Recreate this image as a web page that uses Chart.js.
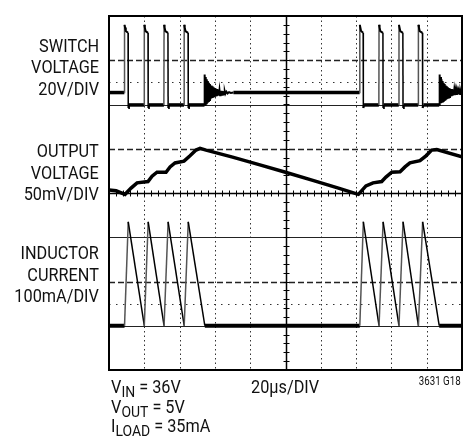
<!DOCTYPE html>
<html>
<head>
<meta charset="utf-8">
<script src="https://cdn.jsdelivr.net/npm/chart.js@4/dist/chart.umd.min.js"></script>
<style>
    body { margin: 0; background: #fff; }
    #wrap { position: relative; width: 466px; height: 440px; overflow: hidden; }
    .lab {
        position: absolute; right: 367px; text-align: right;
        font-family: Roboto, sans-serif; font-size: 17.5px; line-height: 21.5px;
        color: #111; transform: scaleX(0.93); transform-origin: right top; white-space: nowrap;
    }
    .note {
        position: absolute; font-family: Roboto, sans-serif; font-size: 17.5px; line-height: 21.5px;
        color: #111; transform: scaleX(0.93); transform-origin: left top; white-space: nowrap;
    }
    .note .sub { font-size: 15px; position: relative; top: 4px; }
    .code {
        position: absolute; right: 5px; top: 374px; font-family: Roboto, sans-serif; font-size: 12px;
        line-height: 14px; color: #111; transform: scaleX(0.81); transform-origin: right top;
    }
</style>
</head>
<body>
<div id="wrap">
    <canvas id="scope" width="466" height="440"></canvas>
    <div class="lab" style="top:35.7px">SWITCH<br>VOLTAGE<br>20V/DIV</div>
    <div class="lab" style="top:141.4px">OUTPUT<br>VOLTAGE<br>50mV/DIV</div>
    <div class="lab" style="top:243.2px">INDUCTOR<br>CURRENT<br>100mA/DIV</div>
    <div class="note" style="left:111px; top:376.7px">V<span class="sub">IN</span> = 36V</div>
    <div class="note" style="left:111px; top:397.4px">V<span class="sub">OUT</span> = 5V</div>
    <div class="note" style="left:111px; top:415.7px">I<span class="sub">LOAD</span> = 35mA</div>
    <div class="note" style="left:251px; top:376.7px">20µs/DIV</div>
    <div class="code">3631 G18</div>
</div>
<script>
const SWITCH_TRACE = [
    [0, 6.27], [8.7, 6.27],
    [8.8, 7.8], [9.1, 7.74], [9.5, 7.66], [10.8, 7.62], [10.9, 5.92], [11.3, 5.99], [19.9, 5.99],
    [20.0, 7.8], [20.3, 7.74], [20.7, 7.66], [22.1, 7.62], [22.2, 5.92], [22.6, 5.99], [31.1, 5.99],
    [31.2, 7.8], [31.5, 7.74], [31.9, 7.66], [33.4, 7.62], [33.5, 5.92], [33.9, 5.99], [42.5, 5.99],
    [42.6, 7.8], [42.9, 7.74], [43.3, 7.66], [44.8, 7.62], [44.9, 5.92], [45.3, 5.99], [54.1, 5.99],
    // oscilación al vaciarse la bobina
    [54.2, 6.68], [54.5, 6.0], [54.8, 6.62], [55.1, 6.03], [55.4, 6.57], [55.7, 6.06], [56.0, 6.53],
    [56.3, 6.08], [56.6, 6.49], [56.9, 6.1], [57.2, 6.46], [57.5, 6.12], [57.8, 6.43], [58.1, 6.14],
    [58.4, 6.41], [58.7, 6.15], [59.0, 6.39], [59.3, 6.16], [59.6, 6.37], [59.9, 6.17], [60.2, 6.36],
    [60.5, 6.18], [60.8, 6.35], [61.1, 6.19], [61.4, 6.34], [61.7, 6.2], [62.0, 6.33], [62.3, 6.21],
    [62.6, 6.32], [62.9, 6.21], [63.2, 6.31], [63.5, 6.22], [63.8, 6.31], [64.1, 6.22], [64.4, 6.3],
    [64.7, 6.23], [65.0, 6.3], [65.3, 6.23], [65.6, 6.29], [65.9, 6.24], [66.5, 6.29], [67.2, 6.25],
    [68.0, 6.28], [69.0, 6.26], [70.5, 6.27], [142.0, 6.27],
    [142.1, 7.8], [142.4, 7.74], [142.8, 7.66], [144.0, 7.62], [144.1, 5.92], [144.5, 5.99], [152.9, 5.99],
    [153.0, 7.8], [153.3, 7.74], [153.7, 7.66], [155.2, 7.62], [155.3, 5.92], [155.7, 5.99], [164.2, 5.99],
    [164.3, 7.8], [164.6, 7.74], [165.0, 7.66], [166.5, 7.62], [166.6, 5.92], [167.0, 5.99], [175.2, 5.99],
    [175.3, 7.8], [175.6, 7.74], [176.0, 7.66], [177.6, 7.62], [177.7, 5.92], [178.1, 5.99], [187.1, 5.99],
    [187.2, 6.68], [187.5, 6.0], [187.8, 6.62], [188.1, 6.03], [188.4, 6.57], [188.7, 6.06], [189.0, 6.53],
    [189.3, 6.08], [189.6, 6.49], [189.9, 6.1], [190.2, 6.46], [190.5, 6.12], [190.8, 6.43], [191.1, 6.14],
    [191.4, 6.41], [191.7, 6.15], [192.0, 6.39], [192.3, 6.16], [192.6, 6.37], [192.9, 6.17], [193.2, 6.36],
    [193.5, 6.18], [193.8, 6.35], [194.1, 6.19], [194.4, 6.34], [194.7, 6.2], [195.0, 6.33], [195.3, 6.21],
    [195.6, 6.32], [195.9, 6.21], [196.2, 6.31], [196.5, 6.22], [196.8, 6.31], [197.1, 6.22], [197.4, 6.3],
    [197.7, 6.23], [198.0, 6.3], [198.3, 6.23], [198.6, 6.29], [198.9, 6.24], [199.2, 6.29], [199.5, 6.24],
    [199.8, 6.29], [200, 6.25]
];

const OUTPUT_TRACE = [
    [0, 4.07], [4, 4.05], [9.1, 3.97], [12.5, 4.11], [15.9, 4.23], [22.1, 4.26], [24.4, 4.38],
    [27.2, 4.47], [32.3, 4.47], [34.6, 4.59], [37.4, 4.68], [42.5, 4.72], [45.9, 4.84], [49.3, 4.97],
    [51.6, 5.01], [55, 4.97], [70, 4.81], [85, 4.64], [100, 4.47], [115, 4.29], [130, 4.11],
    [140.3, 3.98], [141.3, 3.97], [145.6, 4.16], [149.6, 4.23], [154.5, 4.26], [156.9, 4.36],
    [160.2, 4.47], [164.9, 4.48], [167.7, 4.59], [170.5, 4.68], [176.2, 4.73], [179.6, 4.84],
    [182.8, 4.97], [185.7, 4.98], [200, 4.82]
];

const INDUCTOR_TRACE = [
    [0, 1], [8.8, 1], [10.9, 3.35], [20.0, 1], [22.2, 3.35], [31.2, 1], [33.5, 3.35], [42.6, 1],
    [44.9, 3.35], [54.3, 1], [142.1, 1], [144.1, 3.35], [153.0, 1], [155.3, 3.35], [164.3, 1],
    [166.6, 3.35], [175.3, 1], [177.7, 3.35], [187.1, 1], [200, 1]
];

// Retícula: 10 divisiones horizontales de 20µs, 8 verticales
const GRID_X = [20, 40, 60, 80, 120, 140, 160, 180];
const CENTER_X = 100;
const CENTER_Y = 4;
const REF_DASHED = [2, 5, 7];
const REF_SOLID = [1, 3, 6];
const REF_DOTTED = [1.5, 6.5];

function toPoints(trace) {
    return trace.map(p => ({ x: p[0], y: p[1] }));
}

// Dibuja la retícula del osciloscopio usando las escalas del gráfico
const scopeGrid = {
    id: 'scopeGrid',
    beforeDatasetsDraw(chart) {
        const { ctx, chartArea: a, scales: { x, y } } = chart;
        const hLine = (v) => {
            const py = Math.round(y.getPixelForValue(v)) + 0.5;
            ctx.beginPath(); ctx.moveTo(a.left, py); ctx.lineTo(a.right, py); ctx.stroke();
        };
        ctx.save();

        ctx.strokeStyle = '#333';
        ctx.lineWidth = 1;
        ctx.setLineDash([1.5, 3]);
        GRID_X.forEach(t => {
            const px = Math.round(x.getPixelForValue(t)) + 0.5;
            ctx.beginPath(); ctx.moveTo(px, a.top); ctx.lineTo(px, a.bottom); ctx.stroke();
        });

        ctx.setLineDash([1.5, 5.5]);
        REF_DOTTED.forEach(hLine);

        ctx.strokeStyle = '#222';
        ctx.lineWidth = 1.3;
        ctx.setLineDash([6, 3]);
        REF_DASHED.forEach(hLine);

        ctx.lineWidth = 1;
        ctx.setLineDash([]);
        REF_SOLID.forEach(hLine);

        // Ejes centrales con marcas de subdivisión
        ctx.strokeStyle = '#000';
        ctx.lineWidth = 1.5;
        const cx = Math.round(x.getPixelForValue(CENTER_X)) + 0.5;
        const cy = Math.round(y.getPixelForValue(CENTER_Y)) + 0.5;
        ctx.beginPath();
        ctx.moveTo(cx, a.top); ctx.lineTo(cx, a.bottom);
        ctx.moveTo(a.left, cy); ctx.lineTo(a.right, cy);
        ctx.stroke();

        ctx.lineWidth = 1;
        ctx.beginPath();
        for (let t = 4; t < 200; t += 4) {
            const px = Math.round(x.getPixelForValue(t)) + 0.5;
            ctx.moveTo(px, cy - 3); ctx.lineTo(px, cy + 3);
        }
        for (let d = 0.2; d < 8; d += 0.2) {
            const py = Math.round(y.getPixelForValue(d)) + 0.5;
            ctx.moveTo(cx - 3, py); ctx.lineTo(cx + 3, py);
        }
        ctx.stroke();
        ctx.restore();
    },
    afterDatasetsDraw(chart) {
        const { ctx, chartArea: a } = chart;
        ctx.save();
        ctx.strokeStyle = '#000';
        ctx.lineWidth = 2;
        ctx.strokeRect(a.left, a.top, a.right - a.left, a.bottom - a.top);
        ctx.restore();
    }
};

// Flancos rápidos más claros, niveles planos y oscilaciones más gruesos
const traceWidth = (ctx) => {
    const dy = Math.abs(ctx.p1.parsed.y - ctx.p0.parsed.y);
    if (dy === 0) return 3.5;
    return dy < 1 ? 2 : 1.5;
};
const edgeColor = (ctx) => ctx.p1.parsed.y - ctx.p0.parsed.y > 1 ? '#555' : '#000';

new Chart(document.getElementById('scope'), {
    type: 'line',
    data: {
        datasets: [
            {
                label: 'Switch Voltage',
                data: toPoints(SWITCH_TRACE),
                borderColor: '#000',
                borderWidth: 1.5,
                segment: { borderWidth: traceWidth, borderColor: edgeColor }
            },
            {
                label: 'Output Voltage',
                data: toPoints(OUTPUT_TRACE),
                borderColor: '#000',
                borderWidth: 3.5
            },
            {
                label: 'Inductor Current',
                data: toPoints(INDUCTOR_TRACE),
                borderColor: '#000',
                borderWidth: 1.5,
                segment: { borderWidth: (ctx) => ctx.p0.parsed.y === 1 && ctx.p1.parsed.y === 1 ? 4 : 1.5, borderColor: edgeColor }
            }
        ]
    },
    options: {
        responsive: false,
        animation: false,
        events: [],
        devicePixelRatio: 1,
        layout: { padding: { left: 109, right: 4, top: 16, bottom: 70 } },
        elements: {
            point: { radius: 0 },
            line: { tension: 0, fill: false, borderJoinStyle: 'miter' }
        },
        scales: {
            x: { type: 'linear', min: 0, max: 200, display: false },
            y: { type: 'linear', min: 0, max: 8, display: false }
        },
        plugins: {
            legend: { display: false },
            tooltip: { enabled: false }
        }
    },
    plugins: [scopeGrid]
});
</script>
</body>
</html>
